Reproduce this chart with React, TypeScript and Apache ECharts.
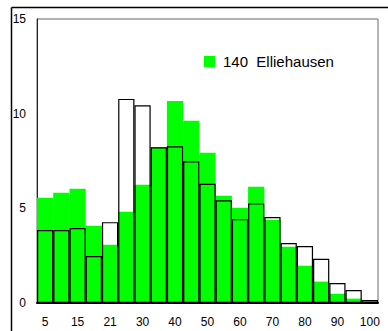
import React, { useEffect, useRef } from "react";
import * as echarts from "echarts";

const categories = ["5", "10", "15", "18", "21", "25", "30", "35", "40", "45", "50", "55", "60", "65", "70", "75", "80", "85", "90", "95", "100"];
const greenValues = [5.56, 5.82, 6.03, 4.08, 3.08, 4.82, 6.24, 8.23, 10.67, 9.62, 7.93, 5.66, 5.03, 6.14, 4.4, 2.97, 1.97, 1.13, 0.49, 0.23, 0.09];
const outlineValues = [3.85, 3.85, 3.96, 2.48, 4.27, 10.78, 10.44, 8.23, 8.28, 7.49, 6.3, 5.43, 4.43, 5.26, 4.54, 3.17, 3.01, 2.34, 1.06, 0.69, 0.16];
const greenName = "140\u00a0 Elliehausen";
const yTicks = { min: 0, max: 15, interval: 5 };

const FONT = "'Liberation Sans', Arial, sans-serif";

export default function App() {
  const ref = useRef<HTMLDivElement>(null);
  useEffect(() => {
    if (!ref.current) return;
    const chart = echarts.init(ref.current, null, { renderer: "svg" });
    chart.setOption({
      animation: false,
      backgroundColor: "#fff",
      textStyle: { fontFamily: FONT },
      grid: {
        left: 37,
        right: 10,
        top: 19,
        bottom: 28,
        show: true,
        borderColor: "#666",
        borderWidth: 1,
      },
      legend: {
        data: [greenName],
        left: 204,
        top: 54,
        padding: 0,
        icon: "rect",
        itemWidth: 11,
        itemHeight: 11,
        textStyle: { fontSize: 15, color: "#000", fontFamily: FONT, padding: [0, 0, 0, 3] },
      },
      xAxis: {
        type: "category",
        data: categories,
        axisTick: { show: false },
        axisLine: { show: true, lineStyle: { color: "#000", width: 2 } },
        axisLabel: { interval: 1, fontSize: 12, color: "#000", margin: 13, fontFamily: FONT },
      },
      yAxis: {
        type: "value",
        min: yTicks.min,
        max: yTicks.max,
        interval: yTicks.interval,
        splitLine: { show: false },
        axisTick: { show: false },
        axisLine: { show: true, lineStyle: { color: "#222", width: 1 } },
        axisLabel: { fontSize: 12, color: "#000", margin: 11, fontFamily: FONT },
      },
      series: [
        {
          name: greenName,
          type: "bar",
          data: greenValues,
          barWidth: "100%",
          barGap: "-100%",
          itemStyle: { color: "#00ff00" },
          z: 2,
        },
        {
          name: "outline",
          type: "bar",
          data: outlineValues,
          barWidth: "100%",
          barGap: "-100%",
          itemStyle: { color: "rgba(0,0,0,0)", borderColor: "#000", borderWidth: 1.2 },
          z: 3,
        },
      ],
      graphic: [
        {
          type: "line",
          shape: { x1: 11.5, y1: 7.5, x2: 388, y2: 7.5 },
          style: { stroke: "#000", lineWidth: 1.5 },
        },
        {
          type: "line",
          shape: { x1: 11.5, y1: 7.5, x2: 11.5, y2: 331 },
          style: { stroke: "#000", lineWidth: 1.5 },
        },
      ],
    });
    return () => chart.dispose();
  }, []);
  return <div ref={ref} style={{ width: 388, height: 331, position: "absolute", left: 0, top: 0 }} />;
}
